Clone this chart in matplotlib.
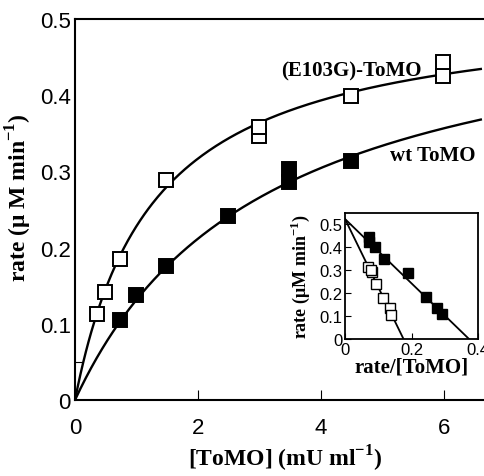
import numpy as np
import matplotlib
matplotlib.use("Agg")
import matplotlib.pyplot as plt

# ---- main panel data ----
e103g_x = [0.36, 0.49, 0.73, 1.48, 2.99, 2.99, 4.49, 5.98, 5.98]
e103g_y = [0.113, 0.142, 0.185, 0.289, 0.347, 0.358, 0.399, 0.425, 0.443]
wt_x = [0.73, 0.99, 1.48, 2.49, 3.48, 3.48, 4.49]
wt_y = [0.105, 0.138, 0.176, 0.241, 0.286, 0.303, 0.313]

# Michaelis-Menten fit parameters (Vmax, Km)
e103g_fit = (0.518, 1.27)
wt_fit = (0.542, 3.12)

# ---- inset (Eadie-Hofstee) data ----
ins_wt_x = [0.072, 0.072, 0.090, 0.117, 0.190, 0.244, 0.277, 0.291]
ins_wt_y = [0.443, 0.420, 0.400, 0.348, 0.287, 0.183, 0.135, 0.109]
ins_e_x = [0.069, 0.081, 0.079, 0.093, 0.114, 0.135, 0.138]
ins_e_y = [0.313, 0.291, 0.302, 0.240, 0.178, 0.135, 0.104]
ins_line_wt = ([0.0, 0.373], [0.522, 0.0])
ins_line_e = ([0.0, 0.176], [0.522, 0.0])

serif = "Liberation Serif"
sans = "Liberation Sans"

fig = plt.figure(figsize=(4.85, 4.77), dpi=100)
ax_w = 1 - 75/485 + 0.02
ax = fig.add_axes([75/485, 76/477, ax_w, 381/477])

xs = np.linspace(0, 6.6, 300)
for (V, K) in (e103g_fit, wt_fit):
    ax.plot(xs, V*xs/(K+xs), color="black", lw=1.7, zorder=2)

ax.plot(e103g_x, e103g_y, ls="none", marker="s", ms=10.5, mfc="white",
        mec="black", mew=1.4, zorder=3)
ax.plot(wt_x, wt_y, ls="none", marker="s", ms=10.5, mfc="black",
        mec="black", mew=1.4, zorder=3)

ax.set_xlim(0, 6.826)
ax.set_ylim(0, 0.5)
for s in ("left", "bottom", "top"):
    ax.spines[s].set_linewidth(1.5)
ax.spines["right"].set_visible(False)

ax.set_xticks([0, 2, 4, 6])
ax.set_xticklabels(["0", "2", "4", "6"])
ax.set_yticks([0, 0.1, 0.2, 0.3, 0.4, 0.5])
ax.set_yticklabels(["0", "0.1", "0.2", "0.3", "0.4", "0.5"])
ax.tick_params(axis="x", direction="in", length=7, width=0.8, pad=12,
               labelsize=16)
ax.tick_params(axis="y", direction="in", length=0, width=0.8, pad=3,
               labelsize=16)
ax.set_yticks([0.05, 0.2, 0.4], minor=True)
ax.tick_params(axis="y", which="minor", direction="in", length=6, width=0.8)
ax.tick_params(axis="x", which="minor", length=0)
for lab in ax.get_xticklabels() + ax.get_yticklabels():
    lab.set_fontfamily(sans)

ax.set_xlabel("[ToMO] (mU ml$^{\\mathregular{-1}}$)", fontfamily=serif,
              fontweight="bold", fontsize=17)
ax.xaxis.set_label_coords((285-75)/(485*ax_w), -(444-401)/381)
ax.set_ylabel("rate (\u03bc M min$^{\\mathregular{-1}}$)", fontfamily=serif,
              fontweight="bold", fontsize=17)
ax.yaxis.set_label_coords(-(75-34)/(485*ax_w), (401-198)/381)

ax.text(3.36, 0.432, "(E103G)-ToMO", fontfamily=serif, fontweight="bold",
        fontsize=15, ha="left", va="center")
ax.text(5.12, 0.321, "wt ToMO", fontfamily=serif, fontweight="bold",
        fontsize=15, ha="left", va="center")

# ---- inset ----
ins = fig.add_axes([345/485, (477-340)/477, 133/485, 126/477])
ins.plot(*ins_line_wt, color="black", lw=1.3, zorder=2)
ins.plot(*ins_line_e, color="black", lw=1.3, zorder=2)
ins.plot(ins_wt_x, ins_wt_y, ls="none", marker="s", ms=6.5, mfc="black",
         mec="black", mew=1, zorder=3)
ins.plot(ins_e_x, ins_e_y, ls="none", marker="s", ms=6.5, mfc="white",
         mec="black", mew=1, zorder=3)
ins.set_xlim(0, 0.4)
ins.set_ylim(0, 0.548)
ins.set_xticks([0, 0.2, 0.4])
ins.set_xticklabels(["0", "0.2", "0.4"])
ins.set_yticks([0, 0.1, 0.2, 0.3, 0.4, 0.5])
ins.set_yticklabels(["0", "0.1", "0.2", "0.3", "0.4", "0.5"])
ins.tick_params(direction="in", length=4, width=0.8, labelsize=12, pad=2)
for lab in ins.get_xticklabels() + ins.get_yticklabels():
    lab.set_fontfamily(sans)
for s in ins.spines.values():
    s.set_linewidth(1.3)
ins.set_xlabel("rate/[ToMO]", fontfamily=serif, fontweight="bold",
               fontsize=15, labelpad=0)
ins.set_ylabel("rate (\u03bcM min$^{\\mathregular{-1}}$)", fontfamily=serif,
               fontweight="bold", fontsize=13, labelpad=5)

fig.savefig("out.png", dpi=100)
